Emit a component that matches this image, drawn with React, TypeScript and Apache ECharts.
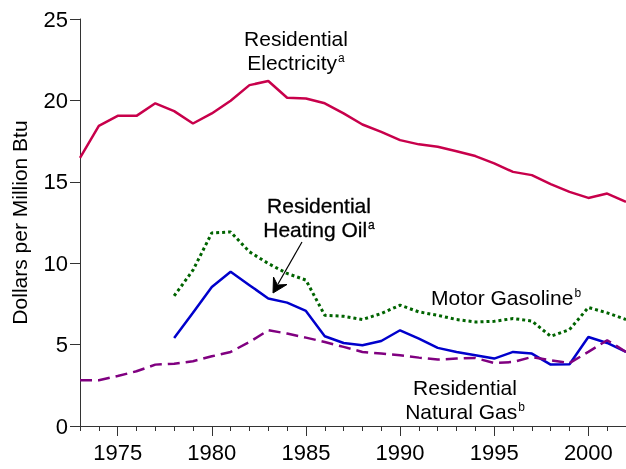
import React, { useEffect, useRef } from "react";
import * as echarts from "echarts";

const years: string[] = [];
for (let y = 1973; y <= 2002; y++) years.push(String(y));

const electricity = [16.47, 18.44, 19.05, 19.05, 19.82, 19.34, 18.58, 19.2, 19.98, 20.94, 21.19, 20.16, 20.12, 19.82, 19.2, 18.52, 18.07, 17.56, 17.3, 17.15, 16.88, 16.58, 16.13, 15.61, 15.41, 14.86, 14.38, 14.01, 14.28, 13.77];
const gasoline = [null, null, null, null, null, 7.99, 9.57, 11.86, 11.92, 10.7, 9.98, 9.37, 8.96, 6.8, 6.74, 6.54, 6.91, 7.42, 7.01, 6.8, 6.54, 6.39, 6.43, 6.6, 6.45, 5.51, 5.92, 7.28, 6.95, 6.54];
const heatingOil = [null, null, null, null, null, 5.41, 6.95, 8.54, 9.47, 8.65, 7.83, 7.58, 7.07, 5.51, 5.1, 4.96, 5.22, 5.88, 5.37, 4.8, 4.55, 4.35, 4.14, 4.55, 4.45, 3.77, 3.79, 5.47, 5.1, 4.55];
const naturalGas = [2.81, 2.81, 3.07, 3.36, 3.77, 3.83, 3.98, 4.28, 4.55, 5.16, 5.88, 5.68, 5.43, 5.16, 4.86, 4.55, 4.45, 4.35, 4.2, 4.08, 4.14, 4.18, 3.87, 3.93, 4.24, 4.04, 3.87, 4.55, 5.27, 4.55];

const FONT = "Liberation Sans, Arial, sans-serif";
const AXIS_COLOR = "#333";

export default function App() {
  const ref = useRef<HTMLDivElement>(null);
  useEffect(() => {
    if (!ref.current) return;
    const chart = echarts.init(ref.current, undefined, { renderer: "svg" });
    const isMajor = (i: number) => (1973 + i) % 5 === 0;
    const gridRect = { left: 80, right: 0, top: 19, bottom: 43 };
    const sup = { fontSize: 12, fontFamily: FONT, fill: "#000", verticalAlign: "top", padding: [2, 0, 0, 1] };
    const textStyle = (text: string, x: number, y: number, align: string, extra: any = {}) => ({
      type: "text",
      x,
      y,
      silent: true,
      style: {
        text,
        fontSize: 21,
        fontFamily: FONT,
        fill: "#000",
        align,
        verticalAlign: "top",
        lineHeight: 24,
        rich: { sup: { ...sup } },
        ...extra,
      },
    });
    chart.setOption({
      animation: false,
      grid: [gridRect, gridRect],
      xAxis: [
        {
          type: "category",
          gridIndex: 0,
          data: years,
          boundaryGap: false,
          axisLine: { lineStyle: { color: AXIS_COLOR, width: 1 } },
          axisTick: { length: 10, interval: (i: number) => isMajor(i), lineStyle: { color: AXIS_COLOR } },
          axisLabel: {
            interval: (i: number) => isMajor(i),
            fontSize: 22,
            fontFamily: FONT,
            color: "#000",
            margin: 15,
          },
          splitLine: { show: false },
        },
        {
          type: "category",
          gridIndex: 1,
          data: years,
          boundaryGap: false,
          axisLine: { show: false },
          axisTick: { length: 5, interval: 0, lineStyle: { color: AXIS_COLOR } },
          axisLabel: { show: false },
          splitLine: { show: false },
        },
      ],
      yAxis: [
        {
          type: "value",
          gridIndex: 0,
          min: 0,
          max: 25,
          interval: 5,
          name: "Dollars per Million Btu",
          nameLocation: "middle",
          nameGap: 50,
          nameTextStyle: { fontSize: 21, fontFamily: FONT, color: "#000" },
          axisLine: { show: true, lineStyle: { color: AXIS_COLOR, width: 1 } },
          axisTick: { show: true, length: 10, lineStyle: { color: AXIS_COLOR } },
          axisLabel: { fontSize: 22, fontFamily: FONT, color: "#000", margin: 12 },
          splitLine: { show: false },
        },
        { type: "value", gridIndex: 1, min: 0, max: 25, show: false },
      ],
      series: [
        {
          name: "Residential Electricity",
          type: "line",
          data: electricity,
          symbol: "none",
          lineStyle: { color: "#C8004B", width: 2.5 },
          z: 3,
        },
        {
          name: "Motor Gasoline",
          type: "line",
          data: gasoline,
          symbol: "none",
          lineStyle: { color: "#006400", width: 3, type: [3, 3] },
          z: 4,
        },
        {
          name: "Residential Heating Oil",
          type: "line",
          data: heatingOil,
          symbol: "none",
          lineStyle: { color: "#0000CC", width: 2.5 },
          z: 3,
        },
        {
          name: "Residential Natural Gas",
          type: "line",
          data: naturalGas,
          symbol: "none",
          lineStyle: { color: "#800080", width: 2.5, type: [12, 6] },
          z: 5,
        },
      ],
      graphic: [
        textStyle("Residential\nElectricity{sup|a}", 296, 26, "center"),
        textStyle("Residential\nHeating Oil{sup|a}", 319, 193, "center", { stroke: "#000", lineWidth: 0.3 }),
        textStyle("Motor Gasoline{sup|b}", 431, 285, "left"),
        textStyle("Residential\nNatural Gas{sup|b}", 465, 375, "center"),
        {
          type: "line",
          silent: true,
          shape: { x1: 302, y1: 242, x2: 278, y2: 284 },
          style: { stroke: "#000", lineWidth: 1.2 },
        },
        {
          type: "polygon",
          silent: true,
          shape: { points: [[273, 293], [287, 284.5], [277.5, 285], [273.5, 277]] },
          style: { fill: "#000", stroke: "#000", lineWidth: 1 },
        },
      ],
    });
    return () => chart.dispose();
  }, []);
  return <div ref={ref} style={{ position: "fixed", left: 0, top: 0, width: 626, height: 469 }} />;
}
